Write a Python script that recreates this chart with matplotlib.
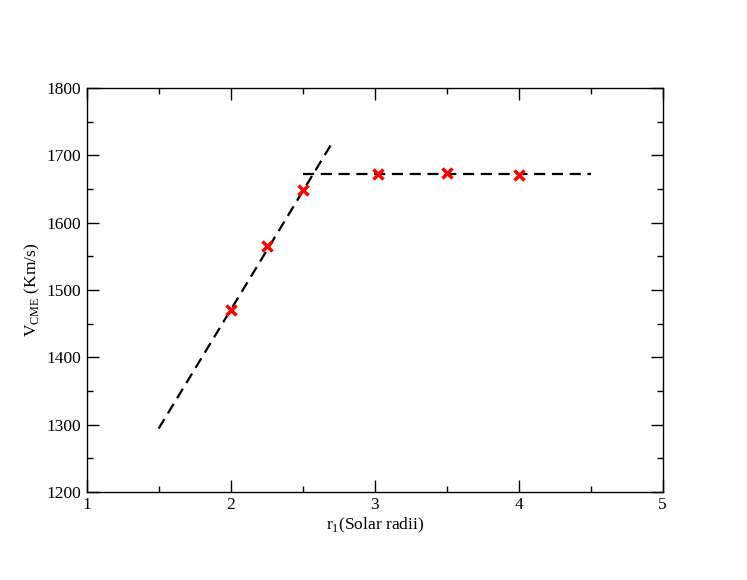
import matplotlib
matplotlib.use("Agg")
import matplotlib.pyplot as plt
from matplotlib.ticker import MultipleLocator

plt.rcParams['font.family'] = ['Liberation Serif', 'DejaVu Serif']
plt.rcParams['mathtext.fontset'] = 'custom'
plt.rcParams['mathtext.rm'] = 'Liberation Serif'

# measured points
r1 = [2.0, 2.25, 2.5, 3.025, 3.5, 4.0]
v_cme = [1470, 1566, 1648, 1673, 1674, 1671]

# fitted lines (end points)
fit1_x = [1.5, 2.7]
fit1_y = [1294, 1717]
fit2_x = [2.5, 4.5]
fit2_y = [1672, 1672]

fig = plt.figure(figsize=(7.47, 5.8), dpi=100)
ax = fig.add_axes([0.116, 0.152, 0.771, 0.696])

ax.plot(fit1_x, fit1_y, color='black', lw=1.6, dashes=(5, 3))
ax.plot(fit2_x, fit2_y, color='black', lw=1.6, dashes=(5, 3))
ax.plot(r1, v_cme, ls='none', marker='x', color='red', ms=7, mew=2.5)

ax.set_xlim(1, 5)
ax.set_ylim(1200, 1800)
ax.xaxis.set_major_locator(MultipleLocator(1))
ax.xaxis.set_minor_locator(MultipleLocator(0.5))
ax.yaxis.set_major_locator(MultipleLocator(100))
ax.yaxis.set_minor_locator(MultipleLocator(50))
ax.tick_params(which='both', direction='in', top=True, right=True, labelsize=12.5)
ax.tick_params(which='major', length=8.5, width=1, pad=4)
ax.tick_params(which='minor', length=4.2, width=1)
for s in ax.spines.values():
    s.set_linewidth(1)

ax.set_xlabel(r'r$_1$(Solar radii)', fontsize=12.5, labelpad=2)
ax.set_ylabel(r'V$_{\rm CME}$ (Km/s)', fontsize=12.5, labelpad=3)

fig.savefig('out.png', dpi=100)
